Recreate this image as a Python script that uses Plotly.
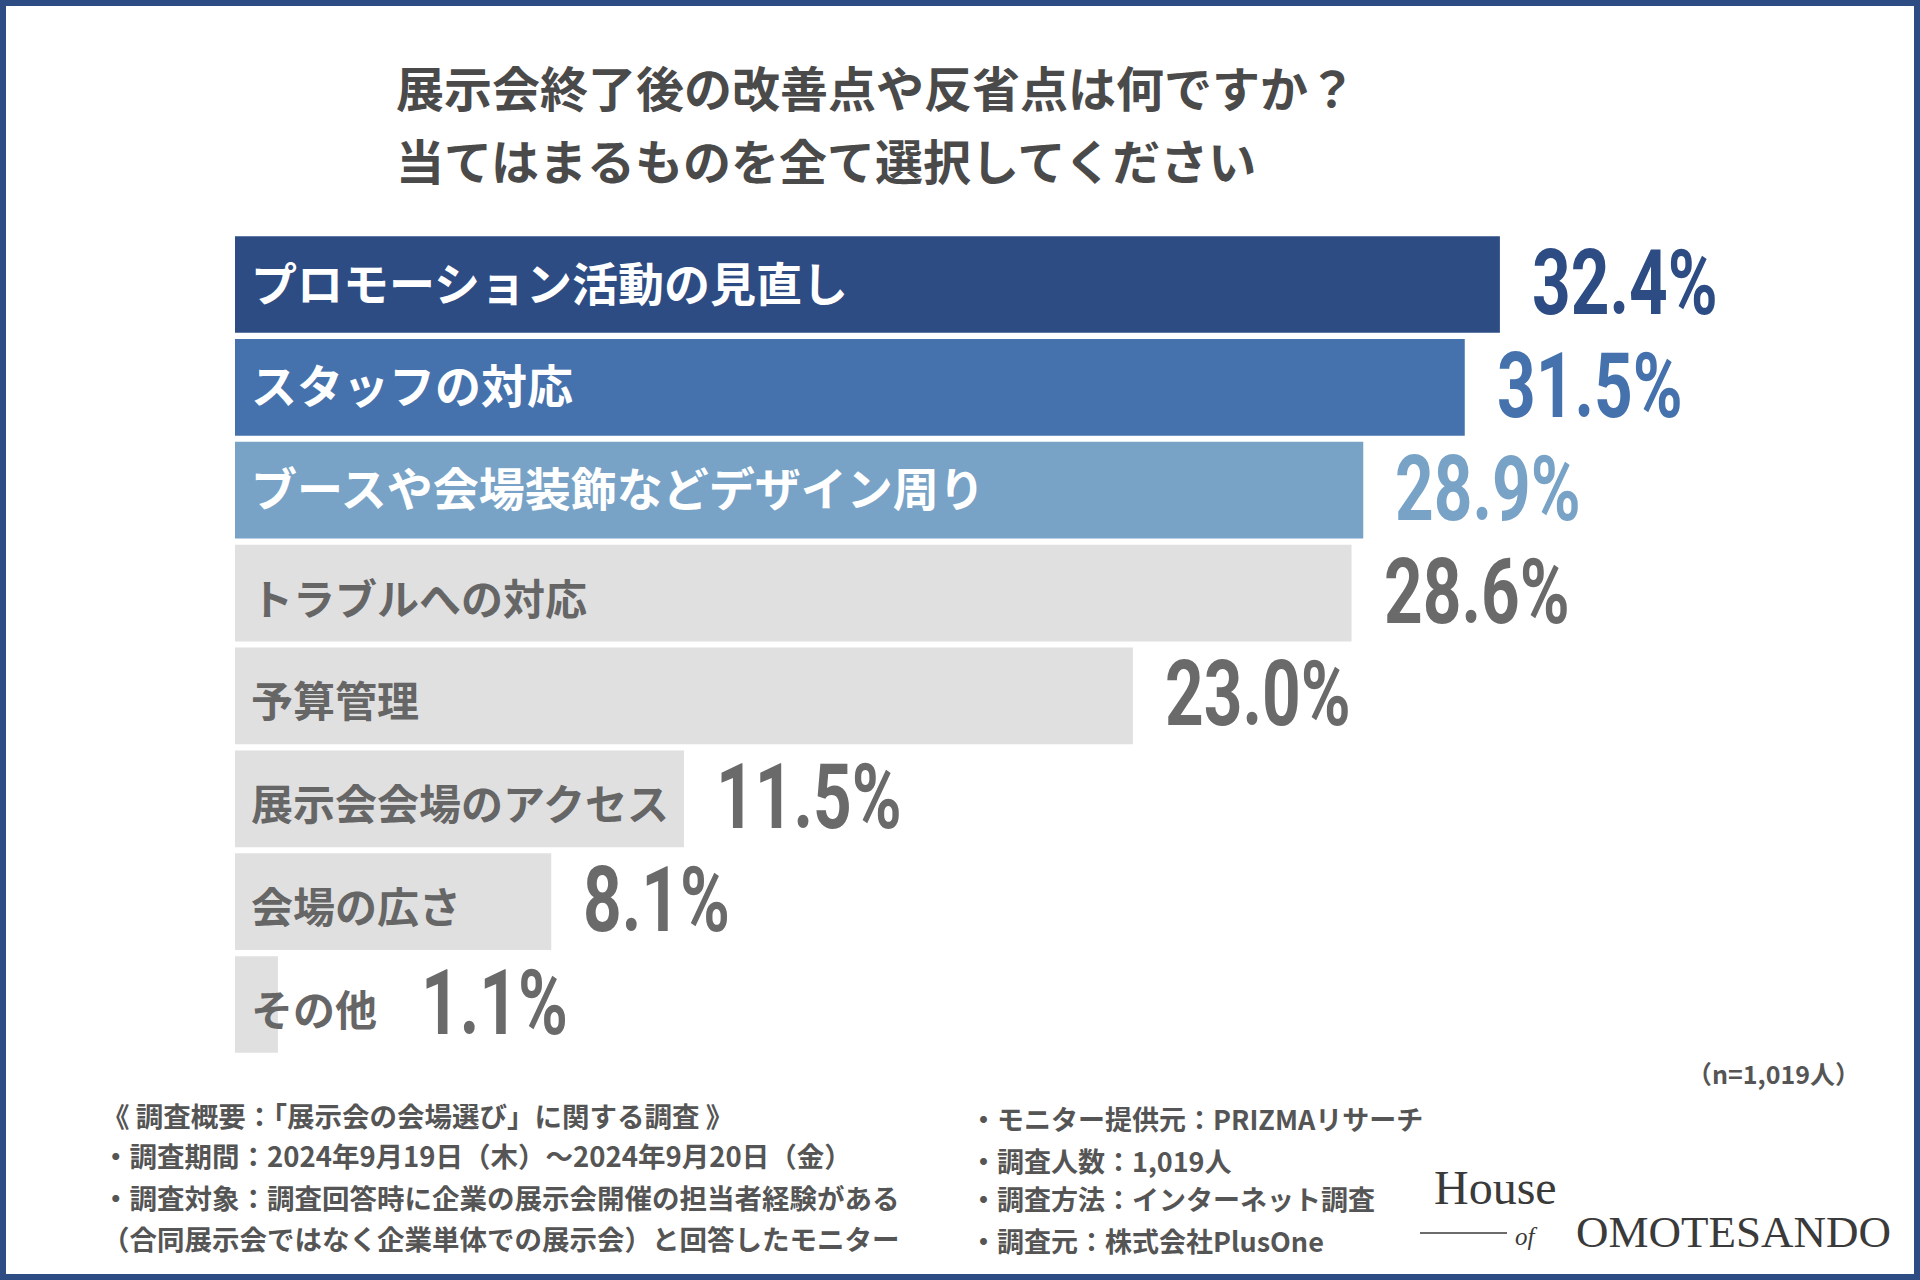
import plotly.graph_objects as go

# データ
categories = [
    "プロモーション活動の見直し",
    "スタッフの対応",
    "ブースや会場装飾などデザイン周り",
    "トラブルへの対応",
    "予算管理",
    "展示会会場のアクセス",
    "会場の広さ",
    "その他",
]
values = [32.4, 31.5, 28.9, 28.6, 23.0, 11.5, 8.1, 1.1]

title_lines = [
    "展示会終了後の改善点や反省点は何ですか？",
    "当てはまるものを全て選択してください",
]
footer_left = [
    "《 調査概要：「展示会の会場選び」に関する調査 》",
    "・調査期間：2024年9月19日（木）～2024年9月20日（金）",
    "・調査対象：調査回答時に企業の展示会開催の担当者経験がある",
    "（合同展示会ではなく企業単体での展示会）と回答したモニター",
]
footer_right = [
    "・モニター提供元：PRIZMAリサーチ",
    "・調査人数：1,019人",
    "・調査方法：インターネット調査",
    "・調査元：株式会社PlusOne",
]
sample_note = "（n=1,019人）"

# 色 (上位3つは青系、残りはグレー)
bar_colors = ["#2E4C84", "#4572AD", "#78A3C7"] + ["#E0E0E0"] * 5
label_colors = ["white"] * 3 + ["#666666"] * 5
value_colors = ["#2E4C84", "#4572AD", "#78A3C7"] + ["#6A6A6A"] * 5
label_sizes = [46] * 3 + [42] * 5
label_yshift = [4] * 3 + [-3] * 5

JP = "Noto Sans CJK JP"
NUM = "Roboto"

W, H = 1920, 1280
L, R, T, B = 235, 235, 231, 220
PW = W - L - R
PH = H - T - B
PX_PER = 39.04  # ピクセル / %
xmax = PW / PX_PER


def px(x):
    return (x - L) / PW


def py(y):
    return (H - B - y) / PH


fig = go.Figure()
fig.add_trace(go.Bar(
    x=values,
    y=categories,
    orientation="h",
    marker=dict(color=bar_colors, line=dict(width=0)),
    hoverinfo="skip",
    showlegend=False,
))

annotations = []

# カテゴリラベル (バーの左端に重ねる)
for cat, col, size, ys in zip(categories, label_colors, label_sizes, label_yshift):
    annotations.append(dict(
        x=0, y=cat, xref="x", yref="y", text=cat, showarrow=False,
        xanchor="left", yanchor="middle", xshift=14, yshift=ys,
        font=dict(family=JP, size=size, color=col, weight="bold"),
    ))

# 値ラベル (後でJSで横幅を詰める)
for cat, v, col, size in zip(categories, values, value_colors, label_sizes):
    bar_px = v * PX_PER
    label_end = 14 + len(cat) * size
    if label_end > bar_px:
        shift = label_end - bar_px + 44
    else:
        shift = 30
    annotations.append(dict(
        x=v, y=cat, xref="x", yref="y", text=f"{v:.1f}%", showarrow=False,
        xanchor="left", yanchor="middle", xshift=shift, yshift=1,
        font=dict(family=NUM, size=90, color=col, weight="bold"),
    ))

# タイトル
for i, line in enumerate(title_lines):
    annotations.append(dict(
        x=px(394), y=py(86 + i * 73), xref="paper", yref="paper", text=line,
        showarrow=False, xanchor="left", yanchor="middle",
        font=dict(family=JP, size=48, color="#4A4A4A", weight="bold"),
    ))

# 注記
annotations.append(dict(
    x=px(1862), y=py(1073), xref="paper", yref="paper", text=sample_note,
    showarrow=False, xanchor="right", yanchor="middle",
    font=dict(family=JP, size=25, color="#555555", weight="bold"),
))

left_y = [1115, 1155, 1197, 1238]
right_y = [1118, 1160, 1198, 1240]
for line, yy in zip(footer_left, left_y):
    annotations.append(dict(
        x=px(100), y=py(yy), xref="paper", yref="paper", text=line,
        showarrow=False, xanchor="left", yanchor="middle",
        font=dict(family=JP, size=27.5, color="#555555", weight="bold"),
    ))
for line, yy in zip(footer_right, right_y):
    annotations.append(dict(
        x=px(968), y=py(yy), xref="paper", yref="paper", text=line,
        showarrow=False, xanchor="left", yanchor="middle",
        font=dict(family=JP, size=27, color="#555555", weight="bold"),
    ))

# ロゴ
annotations.append(dict(
    x=px(1432), y=py(1187), xref="paper", yref="paper", text="House",
    showarrow=False, xanchor="left", yanchor="middle",
    font=dict(family="Liberation Serif", size=48, color="#3A3A3A"),
))
annotations.append(dict(
    x=px(1540), y=py(1236), xref="paper", yref="paper", text="<i>of</i>",
    showarrow=False, xanchor="right", yanchor="middle",
    font=dict(family="Liberation Serif", size=25, color="#3A3A3A"),
))
annotations.append(dict(
    x=px(1893), y=py(1232), xref="paper", yref="paper", text="OMOTESANDO",
    showarrow=False, xanchor="right", yanchor="middle",
    font=dict(family="Liberation Serif", size=45, color="#3A3A3A"),
))

shapes = [
    # 外枠
    dict(type="rect", xref="paper", yref="paper",
         x0=px(0), x1=px(W), y0=py(H), y1=py(0),
         line=dict(color="#2E4C84", width=12), fillcolor="rgba(0,0,0,0)"),
    # ロゴの線
    dict(type="line", xref="paper", yref="paper",
         x0=px(1420), x1=px(1507), y0=py(1233), y1=py(1233),
         line=dict(color="#3A3A3A", width=1.5)),
]

fig.update_layout(
    width=W, height=H,
    margin=dict(l=L, r=R, t=T, b=B),
    paper_bgcolor="white", plot_bgcolor="white",
    bargap=0.06,
    xaxis=dict(range=[0, xmax], visible=False, fixedrange=True),
    yaxis=dict(autorange="reversed", visible=False, fixedrange=True),
    annotations=annotations,
    shapes=shapes,
)

# 数値ラベルをコンデンス書体風に横幅を詰める (左端は固定)
post_js = """
document.body.style.margin='0';
document.body.style.overflow='hidden';
var k = 0.75;
document.querySelectorAll('text.annotation-text').forEach(function(t){
  if (t.textContent.indexOf('%') < 0) return;
  var w = t.getComputedTextLength();
  var dx = w * (1 - k) / 2;
  t.setAttribute('textLength', w * k);
  t.setAttribute('lengthAdjust', 'spacingAndGlyphs');
  var x = parseFloat(t.getAttribute('x'));
  if (!isNaN(x)) t.setAttribute('x', x - dx);
  t.querySelectorAll('tspan').forEach(function(s){
    var sx = parseFloat(s.getAttribute('x'));
    if (!isNaN(sx)) s.setAttribute('x', sx - dx);
  });
});
"""

fig.write_html("out.html", config={"displayModeBar": False}, post_script=post_js)
